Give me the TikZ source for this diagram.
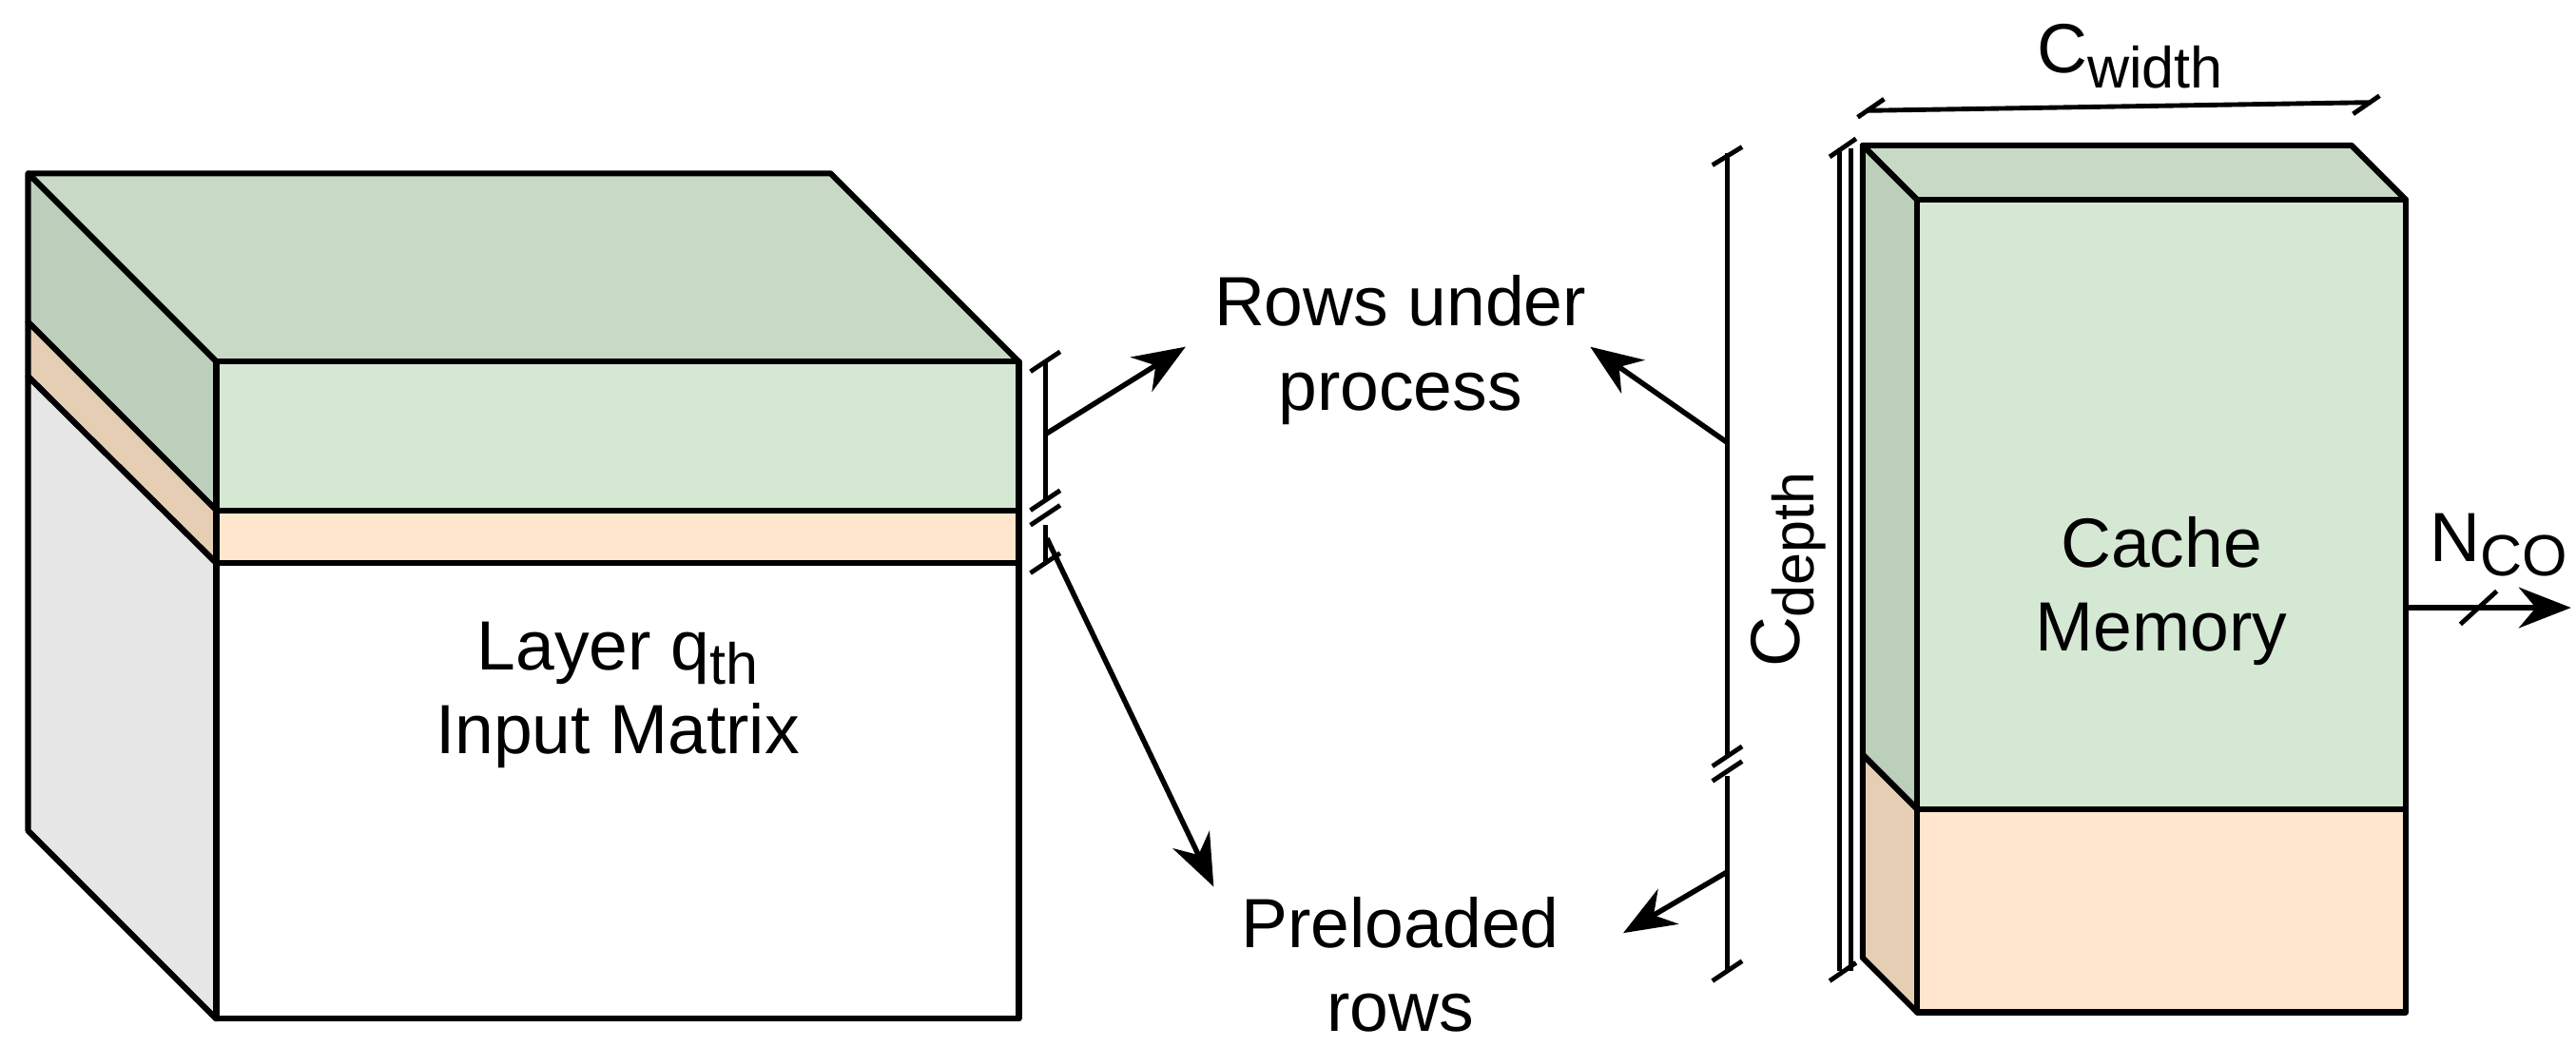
\documentclass[tikz,border=0pt]{standalone}
\usepackage{fontspec}
\setmainfont{Liberation Sans}
\usetikzlibrary{arrows.meta}
\definecolor{gfront}{HTML}{D5E8D4}
\definecolor{gtop}{HTML}{C8DAC6}
\definecolor{gside}{HTML}{BCCFBA}
\definecolor{ofront}{HTML}{FFE6CC}
\definecolor{oside}{HTML}{E6CEB5}
\definecolor{wside}{HTML}{E6E6E6}
\newcommand{\lowsub}[1]{\raisebox{-0.4ex}{\fontsize{10}{10}\selectfont #1}}
\begin{document}
\begin{tikzpicture}[x=0.01cm,y=-0.01cm,
  face/.style={draw=black,line width=1pt,line join=round},
  dim/.style={line width=0.8pt},
  arr/.style={line width=0.9pt,-{Stealth[length=9pt,width=7pt]}},
  lbl/.style={font=\fontsize{12}{14.5}\selectfont,align=center,inner sep=0pt}]
\useasboundingbox (0,0) rectangle (1560,634);
% left block
\draw[face,fill=gtop] (17,105) -- (503,105) -- (617,219) -- (131,219) -- cycle;
\draw[face,fill=gside] (17,105) -- (131,219) -- (131,309) -- (17,195) -- cycle;
\draw[face,fill=ofront!90!black!40!ofront,fill=oside] (17,195) -- (131,309) -- (131,341) -- (17,228) -- cycle;
\draw[face,fill=wside] (17,228) -- (131,341) -- (131,617) -- (17,503) -- cycle;
\draw[face,fill=gfront] (131,219) rectangle (617,309);
\draw[face,fill=ofront] (131,309) rectangle (617,341);
\draw[face,fill=white] (131,341) rectangle (617,617);
\node[lbl] (lay) at (374,421) {Layer q\lowsub{th}\\Input Matrix};
% small bracket at left block
\coordinate (lt) at (633,219);
\coordinate (lm) at (633,263);
\coordinate (lb) at (633,341);
\coordinate (lk) at (634,326);
\draw[dim] (lt) -- (633,303) (633,318) -- (lb);
\draw[dim] (624,225) -- (642,213) (624,347) -- (642,335);
\draw[dim] (624,309) -- (642,297) (624,318) -- (642,306);
% cache block
\draw[face,fill=gtop] (1128,88) -- (1424,88) -- (1457,121) -- (1161,121) -- cycle;
\draw[face,fill=gside] (1128,88) -- (1161,121) -- (1161,490) -- (1128,457) -- cycle;
\draw[face,fill=oside] (1128,457) -- (1161,490) -- (1161,613) -- (1128,580) -- cycle;
\draw[face,fill=gfront] (1161,121) rectangle (1457,490);
\draw[face,fill=ofront] (1161,490) rectangle (1457,613);
\node[lbl] (cache) at (1309,358) {Cache\\Memory};
% C_width
\draw[dim] (1130,67) -- (1436,62);
\draw[dim] (1125,71) -- (1141,60) (1425,69) -- (1441,58);
\node[lbl] (cw) at (1290,34) {C\lowsub{width}};
% C_depth
\draw[dim] (1114,90) -- (1114,588) (1121,90) -- (1121,588);
\draw[dim] (1108,95) -- (1124,84) (1108,594) -- (1124,583);
\node[lbl,rotate=90] (cd) at (1083,345) {C\lowsub{depth}};
% middle bracket
\coordinate (mt) at (1046,268);
\coordinate (mb) at (1046,528);
\draw[dim] (1046,93) -- (1046,458) (1046,470) -- (1046,588);
\draw[dim] (1037,100) -- (1055,89) (1037,594) -- (1055,582);
\draw[dim] (1037,464) -- (1055,452) (1037,473) -- (1055,461);
% labels and arrows
\node[lbl] (rows) at (848,212) {Rows under\\process};
\node[lbl] (pre) at (848,584) {Preloaded\\rows};
\coordinate (ra) at (718,210);
\coordinate (rb) at (963,210);
\coordinate (pa) at (735,537);
\coordinate (pb) at (983,565);
\draw[arr] (lm) -- (ra);
\draw[arr] (lk) -- (pa);
\draw[arr] (mt) -- (rb);
\draw[arr] (mb) -- (pb);
% N_co output
\coordinate (no) at (1457,368);
\coordinate (ne) at (1557,368);
\draw[arr] (no) -- (ne);
\draw[dim] (1490,378) -- (1512,358);
\node[lbl] (nco) at (1513,330) {N\lowsub{CO}};
\end{tikzpicture}
\end{document}
